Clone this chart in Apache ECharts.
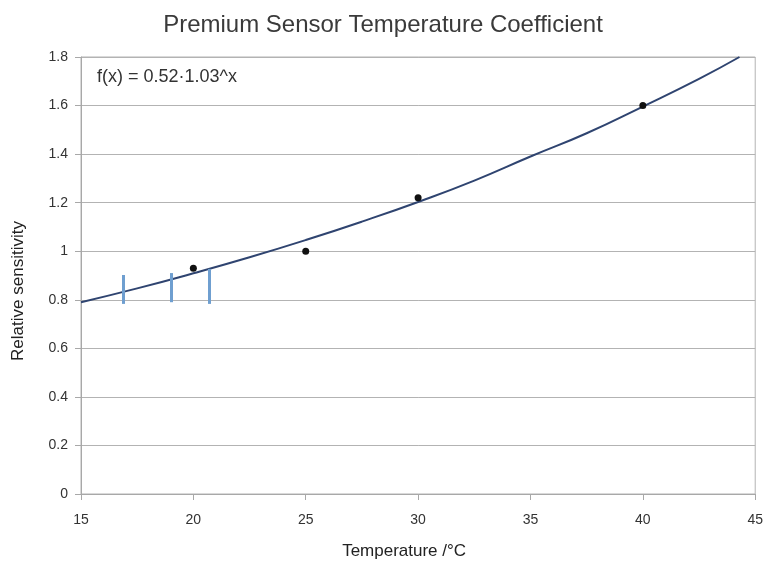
<!DOCTYPE html>
<html>
<head>
<meta charset="utf-8">
<script src="https://cdn.jsdelivr.net/npm/echarts@6/dist/echarts.min.js"></script>
<style>html,body{margin:0;padding:0;background:#fff}#c{width:766px;height:569px}</style>
</head>
<body>
<div id="c"></div>
<script>
// Measured data points (temperature °C, relative sensitivity)
var pointTemps = [20, 25, 30, 40];
var pointValues = [0.93, 1.0, 1.22, 1.6];
// Trend curve
var curveTemps = [15, 17.5, 20, 22.5, 25, 27.5, 30, 32.5, 35, 37.5, 40, 42.5, 44.3];
var curveValues = [0.79, 0.847, 0.909, 0.975, 1.046, 1.122, 1.203, 1.291, 1.39, 1.486, 1.596, 1.71, 1.8];
// Blue vertical marks: x, lower y, upper y
var markTemps = [16.9, 19.0, 20.7];
var markLows = [0.783, 0.79, 0.783];
var markHighs = [0.902, 0.91, 0.927];
var xTicks = [15, 20, 25, 30, 35, 40, 45];
var yTicks = [0, 0.2, 0.4, 0.6, 0.8, 1, 1.2, 1.4, 1.6, 1.8];
var titleText = 'Premium Sensor Temperature Coefficient';
var formulaText = 'f(x) = 0.52·1.03^x';
var xName = 'Temperature /°C';
var yName = 'Relative sensitivity';

var chart = echarts.init(document.getElementById('c'));
var font = 'Liberation Sans, Arial, sans-serif';
var markData = markTemps.map(function (t, i) {
  return [{ coord: [t, markLows[i]] }, { coord: [t, markHighs[i]] }];
});
chart.setOption({
  animation: false,
  backgroundColor: '#fff',
  title: {
    text: titleText,
    left: 'center',
    top: 8,
    textStyle: { fontFamily: font, fontSize: 24, fontWeight: 'normal', color: '#3a3a3a' }
  },
  graphic: [{
    type: 'text',
    left: 97,
    top: 68,
    style: { text: formulaText, font: '18px Liberation Sans, Arial, sans-serif', fill: '#333' }
  }, {
    type: 'text',
    x: 18,
    y: 291,
    rotation: Math.PI / 2,
    style: {
      text: yName, font: '17px Liberation Sans, Arial, sans-serif', fill: '#222',
      align: 'center', verticalAlign: 'middle'
    }
  }],
  grid: {
    left: 81, right: 9, top: 57, bottom: 75,
    show: true, borderColor: '#b3b3b3', borderWidth: 1
  },
  xAxis: {
    type: 'value',
    min: xTicks[0], max: xTicks[xTicks.length - 1], interval: 5,
    name: xName,
    nameLocation: 'middle',
    nameGap: 49,
    nameTextStyle: { fontFamily: font, fontSize: 17, color: '#222', padding: [0, 28, 0, 0] },
    axisLine: { lineStyle: { color: '#a8a8a8' } },
    axisTick: { show: true, length: 6, lineStyle: { color: '#a8a8a8' } },
    axisLabel: { fontFamily: font, fontSize: 14, color: '#333', margin: 19 },
    splitLine: { show: false }
  },
  yAxis: {
    type: 'value',
    min: yTicks[0], max: yTicks[yTicks.length - 1], interval: 0.2,
    axisLine: { show: true, lineStyle: { color: '#a8a8a8' } },
    axisTick: { show: true, length: 6, lineStyle: { color: '#a8a8a8' } },
    axisLabel: {
      fontFamily: font, fontSize: 14, color: '#333', margin: 13,
      formatter: function (v) { return String(Math.round(v * 10) / 10); }
    },
    splitLine: { show: true, lineStyle: { color: '#b3b3b3', width: 1 } }
  },
  series: [
    {
      type: 'line',
      data: curveTemps.map(function (t, i) { return [t, curveValues[i]]; }),
      smooth: true,
      showSymbol: false,
      lineStyle: { color: '#2f4470', width: 2 },
      z: 2
    },
    {
      type: 'scatter',
      data: pointTemps.map(function (t, i) { return [t, pointValues[i]]; }),
      symbol: 'circle',
      symbolSize: 7,
      itemStyle: { color: '#111', opacity: 1 },
      z: 3,
      markLine: {
        silent: true,
        symbol: ['none', 'none'],
        label: { show: false },
        lineStyle: { color: '#6f9fd0', width: 3, type: 'solid' },
        data: markData
      }
    }
  ]
});
</script>
</body>
</html>
